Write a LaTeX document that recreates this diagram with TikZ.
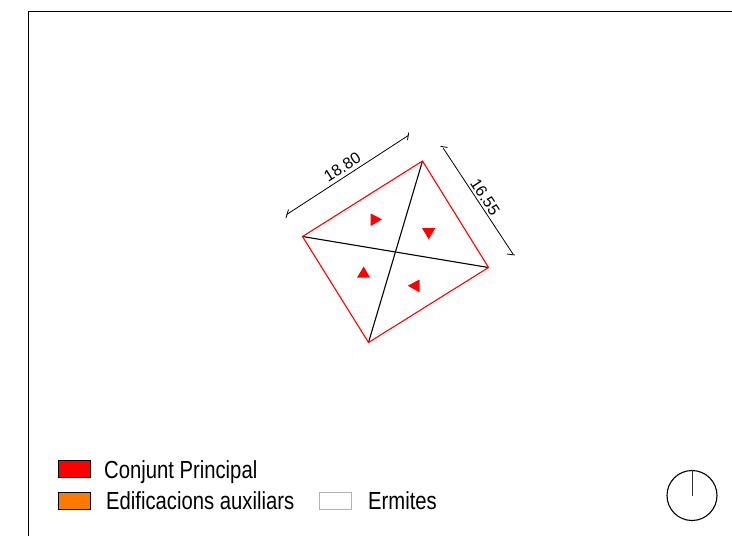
\documentclass[tikz,border=0pt]{standalone}
\usepackage{fontspec}
\setmainfont{Liberation Sans}
\newfontfamily\legendfont[FakeStretch=0.82]{Liberation Sans}
\usetikzlibrary{positioning}

\tikzset{
    swatch/.style={draw, rectangle, minimum width=32pt, minimum height=17pt, inner sep=0pt, line width=1pt},
    legendtext/.style={inner sep=0pt, font=\legendfont\fontsize{24.7}{25}\selectfont},
    dimtext/.style={inner sep=0pt, font=\fontsize{16}{16}\selectfont},
    pointer/.style={fill=red, draw=none},
}

\begin{document}
\begin{tikzpicture}[x=1pt, y=-1pt]
    \useasboundingbox (0,0) rectangle (732,536);

    % frame
    \draw[line width=0.9pt] (28,536) -- (28,11) -- (732,11);

    % plan
    \coordinate (top) at (422.5,161);
    \coordinate (left) at (302.5,236.5);
    \coordinate (right) at (488.5,267.5);
    \coordinate (bottom) at (368.5,342.5);
    \draw[line width=1.1pt] (top) -- (bottom);
    \draw[line width=1.1pt] (left) -- (right);
    \draw[red, line width=1.1pt, line join=miter] (top) -- (right) -- (bottom) -- (left) -- cycle;

    % markers
    \fill[pointer] (370.7,213.5) -- (382,219.3) -- (370.7,226) -- cycle;
    \fill[pointer] (422,228) -- (435.3,228) -- (428.7,239.3) -- cycle;
    \fill[pointer] (357,277.5) -- (370,277.5) -- (363.7,266.5) -- cycle;
    \fill[pointer] (419.5,279.5) -- (419.5,292.3) -- (407.7,285.7) -- cycle;

    % dimensions
    \coordinate (dimA) at (286.7,214.5);
    \coordinate (dimB) at (408.3,135.5);
    \coordinate (dimC) at (443.3,148.3);
    \coordinate (dimD) at (513.3,254.5);
    \draw[line width=0.8pt] (dimA) -- (dimB);
    \draw[line width=0.8pt] (dimC) -- (dimD);
    \draw[line width=0.8pt] (286,218) -- (288.5,209.5) (408.7,132.5) -- (407.5,140);
    \draw[line width=0.8pt] (440.5,146.3) -- (447.5,147.5) (507,254) -- (515,255);
    \node[dimtext, rotate=32.6] (lenA) at (342.3,167.3) {18.80};
    \node[dimtext, rotate=-56.7] (lenB) at (485.2,197) {16.55};

    % legend
    \node[swatch, fill=red] (princ) at (74.5,468.5) {};
    \node[swatch, fill=orange!95!red] (aux) at (74.5,500.5) {};
    \node[swatch, draw=black!30, fill=white, right=228pt of aux] (erm) {};
    \node[legendtext, right=13pt of princ, yshift=-4pt] (princtext) {Conjunt Principal};
    \node[legendtext, right=15pt of aux] (auxtext) {Edificacions auxiliars};
    \node[legendtext, right=16pt of erm] (ermtext) {Ermites};

    % north mark
    \node[draw, circle, minimum size=50pt, inner sep=0pt, line width=1.1pt] (north) at (692,495.5) {};
    \coordinate (centre) at (692,496);
    \draw[line width=1pt, black!80] (north.north) -- (centre);
\end{tikzpicture}
\end{document}
